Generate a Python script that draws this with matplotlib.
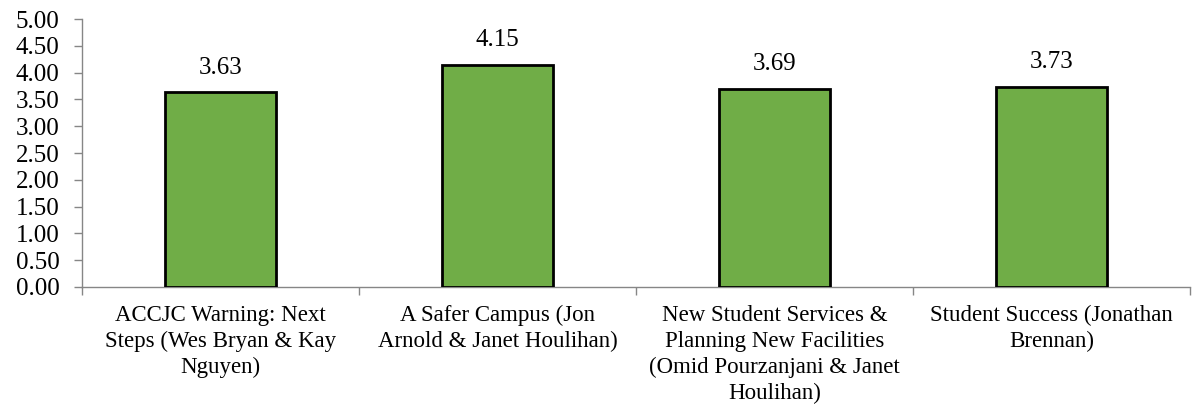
import numpy as np
import matplotlib.pyplot as plt

categories = [
    "ACCJC Warning: Next\nSteps (Wes Bryan & Kay\nNguyen)",
    "A Safer Campus (Jon\nArnold & Janet Houlihan)",
    "New Student Services &\nPlanning New Facilities\n(Omid Pourzanjani & Janet\nHoulihan)",
    "Student Success (Jonathan\nBrennan)",
]
values = [3.63, 4.15, 3.69, 3.73]
yticks = [0.0, 0.5, 1.0, 1.5, 2.0, 2.5, 3.0, 3.5, 4.0, 4.5, 5.0]

plt.rcParams['font.family'] = ['Liberation Serif', 'DejaVu Serif']

fig = plt.figure(figsize=(11.93, 4.09), dpi=100)
ax = fig.add_axes([0.0687, 0.2983, 0.9288, 0.6552])

x = np.arange(len(values))
bars = ax.bar(x, values, width=0.4, color="#70AD47", edgecolor="black", linewidth=2, zorder=3)
for xi, v in zip(x, values):
    ax.annotate(f"{v:.2f}", (xi, v), xytext=(0, 10), textcoords="offset points",
                ha="center", va="bottom", fontsize=18)

ax.set_xlim(-0.5, len(values) - 0.5)
ax.set_ylim(0, 5)
ax.set_yticks(yticks)
ax.set_yticklabels([f"{t:.2f}" for t in yticks], fontsize=18)
ax.set_xticks(x)
ax.set_xticklabels(categories, fontsize=16.5, linespacing=1.3)
ax.set_xticks(np.arange(-0.5, len(values)), minor=True)
ax.tick_params(axis="x", which="major", length=0, pad=13)
ax.tick_params(axis="x", which="minor", length=6, color="#868686", width=1)
ax.tick_params(axis="y", length=6, color="#868686", width=1, pad=10)

for s in ["top", "right"]:
    ax.spines[s].set_visible(False)
for s in ["left", "bottom"]:
    ax.spines[s].set_color("#868686")
    ax.spines[s].set_linewidth(1)

fig.savefig("out.png", dpi=100)
